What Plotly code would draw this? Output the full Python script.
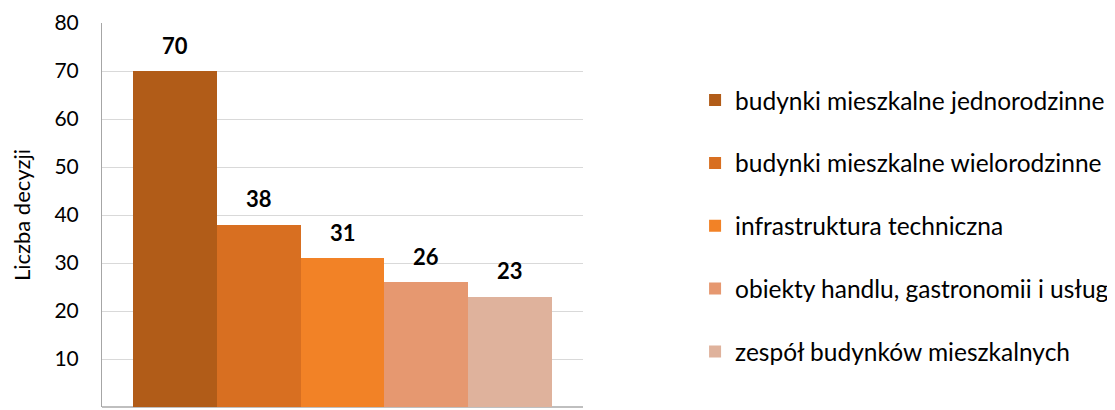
import plotly.graph_objects as go

names = ['budynki mieszkalne jednorodzinne', 'budynki mieszkalne wielorodzinne',
         'infrastruktura techniczna', 'obiekty handlu, gastronomii i usług',
         'zespół budynków mieszkalnych']
values = [70, 38, 31, 26, 23]
colors = ['#B15C18', '#D86F21', '#F28226', '#E69870', '#DFB29C']

font_name = 'Lato'

fig = go.Figure()
for i, (n, v, c) in enumerate(zip(names, values, colors)):
    fig.add_trace(go.Bar(
        x=[n], y=[v], name=n, marker=dict(color=c, line=dict(width=0)),
        legendgroup=str(i), hoverinfo='y'
    ))
    # value label above each bar
    fig.add_annotation(x=n, y=v, text='<b>' + str(v) + '</b>', showarrow=False,
                       yanchor='middle', yshift=26,
                       font=dict(family=font_name, size=22, color='#000000'))

# the page body has an 8px margin, so the figure is 8px smaller than the window
fig.update_layout(
    width=1107, height=402,
    margin=dict(l=94, r=532, t=15, b=3, autoexpand=False),
    plot_bgcolor='white', paper_bgcolor='white',
    font=dict(family=font_name, size=21, color='#000000'),
    bargap=0, barmode='group',
    xaxis=dict(showticklabels=False, showgrid=False, range=[-0.87, 4.87],
               showline=False, zeroline=False, fixedrange=True),
    yaxis=dict(range=[0, 80], dtick=10, showgrid=True, gridcolor='#D9D9D9', gridwidth=1,
               showline=True, linecolor='#A6A6A6', linewidth=1, zeroline=True,
               zerolinecolor='#BFBFBF', ticks='', ticklabelstandoff=18,
               title=dict(text='Liczba decyzji', font=dict(size=22), standoff=24)),
    legend=dict(x=1.233, xanchor='left', y=0.471, yanchor='middle',
                traceorder='grouped', tracegroupgap=28,
                font=dict(size=24.5), itemwidth=30),
    showlegend=True,
)

fig.write_html('out.html')
